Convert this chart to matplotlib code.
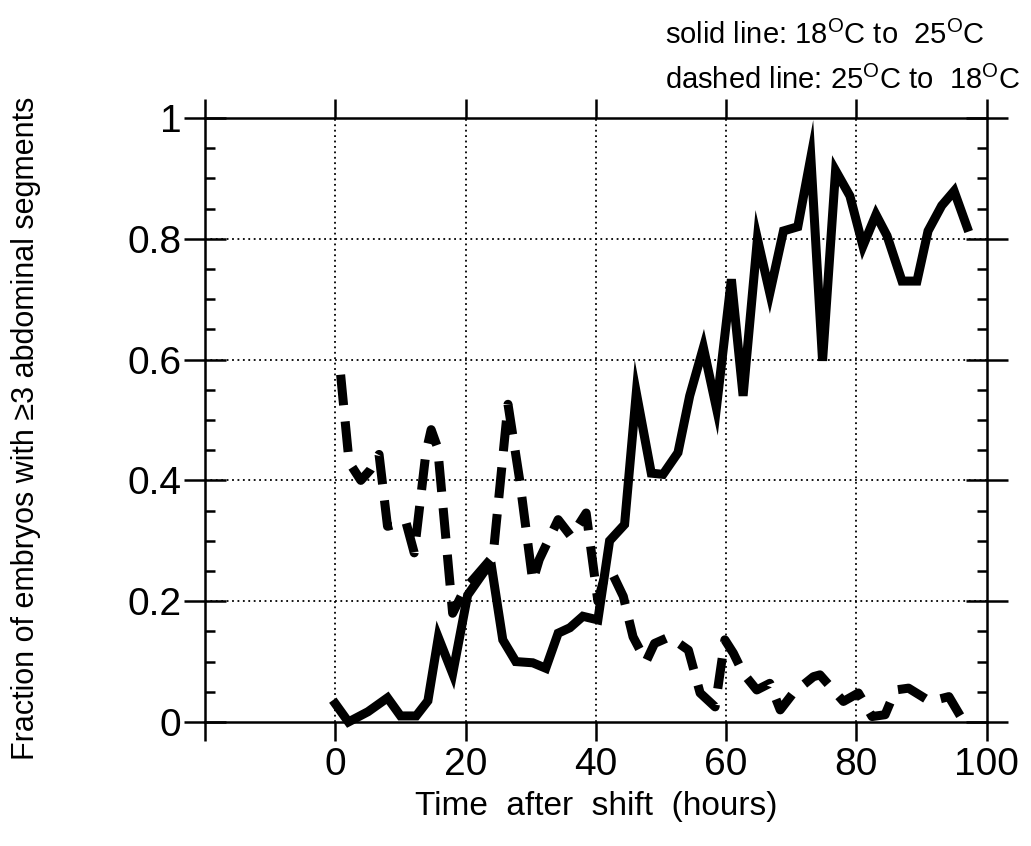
import matplotlib
matplotlib.use('Agg')
import matplotlib.pyplot as plt
from matplotlib.ticker import MultipleLocator

plt.rcParams['font.family'] = ['Liberation Sans', 'DejaVu Sans']
plt.rcParams['mathtext.fontset'] = 'custom'
plt.rcParams['mathtext.rm'] = 'Liberation Sans'
plt.rcParams['mathtext.sf'] = 'Liberation Sans'

# solid line: 18C -> 25C
solid_t = [0, 2, 5, 8, 10, 12.4, 14.2, 15.8, 18, 20.3, 22.9, 24, 25.7, 27.7, 30.3, 32.3,
           34.2, 36, 38, 40.3, 42.1, 44.4, 46.2, 48.5, 50.3, 52.6, 54.4, 56.5, 58.5,
           60.8, 62.6, 64.8, 66.7, 68.8, 71, 73, 74.8, 76.8, 79, 81, 83, 84.7, 87,
           89.3, 91, 93.1, 95, 97]
solid_f = [0.03, 0.0, 0.017, 0.04, 0.01, 0.01, 0.035, 0.14, 0.08, 0.21, 0.25, 0.255, 0.136,
           0.10, 0.098, 0.089, 0.147, 0.156, 0.175, 0.169, 0.30, 0.327, 0.545, 0.412,
           0.41, 0.446, 0.54, 0.62, 0.52, 0.733, 0.54, 0.80, 0.71, 0.813, 0.82, 0.935,
           0.598, 0.913, 0.871, 0.788, 0.84, 0.805, 0.73, 0.73, 0.813, 0.855, 0.879,
           0.819]

# dashed line: 25C -> 18C
dashed_t = [0.8, 2.1, 3.9, 5.4, 6.7, 8, 10.8, 12.1, 13.9, 14.7, 15.7, 18, 19.8, 24.2,
            26.5, 28.3, 30.3, 31.3, 34.2, 36.2, 38.5, 40.3, 41.5, 42.6, 44.2, 45.7,
            47.7, 49, 51.3, 54.2, 56, 58.3, 59.8, 61.1, 62.6, 64.7, 66.7, 68.3, 70.3,
            73.4, 74.4, 78, 80.3, 82.4, 84.4, 86, 88, 91.3, 94.2, 96.5]
dashed_f = [0.575, 0.43, 0.40, 0.418, 0.443, 0.324, 0.332, 0.28, 0.446, 0.484, 0.454,
            0.18, 0.219, 0.274, 0.526, 0.40, 0.233, 0.269, 0.335, 0.307, 0.346, 0.20,
            0.247, 0.244, 0.208, 0.141, 0.10, 0.13, 0.141, 0.119, 0.048, 0.025, 0.136,
            0.114, 0.081, 0.053, 0.064, 0.02, 0.048, 0.075, 0.078, 0.034, 0.048, 0.009,
            0.012, 0.053, 0.056, 0.034, 0.042, 0.0]

x_ticks = [-20, 0, 20, 40, 60, 80, 100]
x_labels = ['', '0', '20', '40', '60', '80', '100']
y_ticks = [0, 0.2, 0.4, 0.6, 0.8, 1]
y_labels = ['0', '0.2', '0.4', '0.6', '0.8', '1']

fig = plt.figure(figsize=(10.31, 8.46), dpi=100)
ax = fig.add_axes([0.199, 0.1466, 0.758, 0.7139])

ax.plot(solid_t, solid_f, color='black', lw=6.5, solid_joinstyle='miter', clip_on=False, zorder=3)
ax.plot(dashed_t, dashed_f, color='black', lw=6.5, dashes=(3.4, 1.8), dash_capstyle='butt',
        clip_on=False, zorder=3)

ax.set_xlim(-20, 100)
ax.set_ylim(0, 1)

ax.set_xticks(x_ticks)
ax.set_xticklabels(x_labels)
ax.set_yticks(y_ticks)
ax.set_yticklabels(y_labels)
ax.yaxis.set_minor_locator(MultipleLocator(0.05))

for v in x_ticks[1:-1]:
    ax.axvline(v, color='black', ls=(0, (1, 2)), lw=1.3, zorder=1)
for v in y_ticks[1:-1]:
    ax.axhline(v, color='black', ls=(0, (1, 2)), lw=1.3, zorder=1)

for s in ax.spines.values():
    s.set_linewidth(1.8)

ax.tick_params(axis='x', which='major', direction='out', length=14, width=1.8,
               top=True, labelsize=28, pad=4)
ax.tick_params(axis='y', which='major', direction='inout', length=30, width=1.8,
               right=True, labelsize=28, pad=2)
ax.tick_params(axis='y', which='minor', direction='in', length=7, width=1.8, right=True)

ax.set_xlabel('Time  after  shift  (hours)', fontsize=24, labelpad=6)
fig.text(0.025, 0.494, 'Fraction of embryos with \u22653 abdominal segments', fontsize=22,
         rotation=90, ha='center', va='center')

fig.text(0.955, 0.958, r'solid line: 18$^{\mathrm{O}}$C to  25$^{\mathrm{O}}$C',
         ha='right', va='center', fontsize=21)
fig.text(0.99, 0.905, r'dashed line: 25$^{\mathrm{O}}$C to  18$^{\mathrm{O}}$C',
         ha='right', va='center', fontsize=21)

fig.savefig('out.png', dpi=100)
